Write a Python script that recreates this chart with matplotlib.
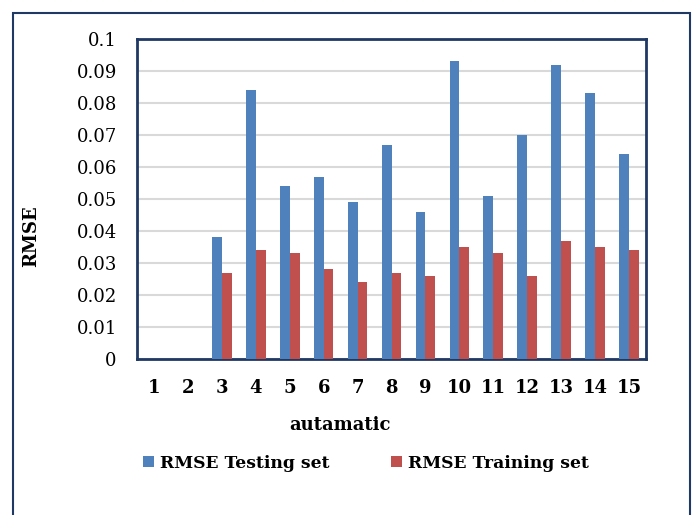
import matplotlib
matplotlib.use("Agg")
import matplotlib.pyplot as plt
import numpy as np
from matplotlib.patches import Rectangle

categories = [str(i) for i in range(1, 16)]
rmse_testing = [0, 0, 0.038, 0.084, 0.054, 0.057, 0.049, 0.067, 0.046, 0.093, 0.051, 0.070, 0.092, 0.083, 0.064]
rmse_training = [0, 0, 0.027, 0.034, 0.033, 0.028, 0.024, 0.027, 0.026, 0.035, 0.033, 0.026, 0.037, 0.035, 0.034]
yticks = [0, 0.01, 0.02, 0.03, 0.04, 0.05, 0.06, 0.07, 0.08, 0.09, 0.1]
ytick_labels = ["0", "0.01", "0.02", "0.03", "0.04", "0.05", "0.06", "0.07", "0.08", "0.09", "0.1"]

plt.rcParams['font.family'] = ['DejaVu Serif']

W, H = 698, 515
fig = plt.figure(figsize=(W / 100, H / 100), dpi=100)
ax = fig.add_axes([137 / W, 1 - 359 / H, (646 - 137) / W, (359 - 39) / H])

navy = '#1F3864'
blue = '#4F81BD'
red = '#C0504D'

x = np.arange(len(categories))
bw = 0.29
ax.bar(x - bw / 2, rmse_testing, bw, color=blue, label='RMSE Testing set', zorder=3)
ax.bar(x + bw / 2, rmse_training, bw, color=red, label='RMSE Training set', zorder=3)

ax.set_xlim(-0.5, len(categories) - 0.5)
ax.set_ylim(0, 0.1)
ax.set_yticks(yticks)
ax.set_yticklabels(ytick_labels, fontsize=13)
ax.set_xticks(x)
ax.set_xticklabels(categories, fontsize=13, fontweight='bold')
ax.tick_params(length=0)
ax.tick_params(axis='x', pad=14.5)
ax.tick_params(axis='y', pad=14.5)
ax.grid(axis='y', color='#D9D9D9', linewidth=1.5, zorder=0)
for s in ax.spines.values():
    s.set_color(navy)
    s.set_linewidth(2)

ax.set_ylabel('RMSE', fontsize=13, fontweight='bold')
ax.yaxis.set_label_coords((40 - 137) / 509, (359 - 236) / 320)
ax.set_xlabel('autamatic', fontsize=13, fontweight='bold', va='center')
ax.xaxis.set_label_coords((340 - 137) / 509, -(425 - 359) / 320)

fig.legend(loc='center', bbox_to_anchor=(366 / W, 1 - 463 / H), ncol=2, frameon=False,
           prop={'size': 12.3, 'weight': 'bold'}, handlelength=0.65, handleheight=0.65,
           handletextpad=0.35, columnspacing=3.6)

fig.patches.append(Rectangle((13 / W, -0.1), (690 - 13) / W, 1 - 13 / H + 0.1,
                             transform=fig.transFigure, fill=False, edgecolor=navy,
                             linewidth=1.5))

fig.savefig('out.png', dpi=100)
